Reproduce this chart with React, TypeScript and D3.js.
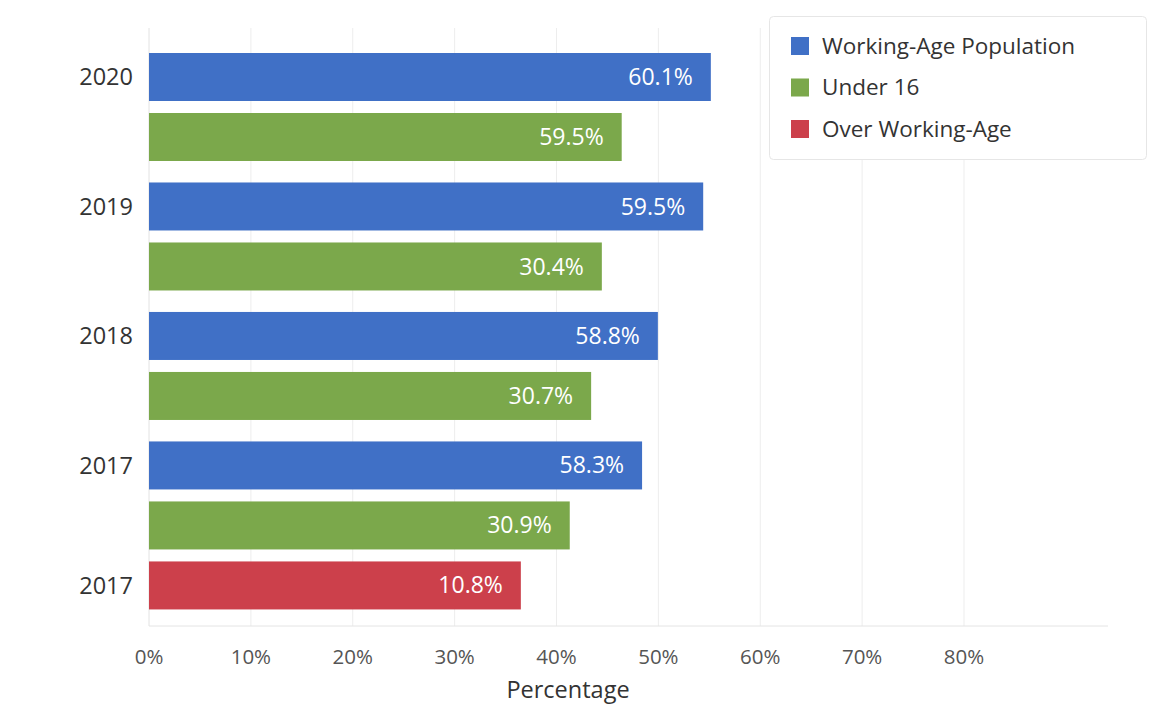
import React from "react";
import * as d3 from "d3";

// ---- data ----
const years = ["2020", "2019", "2018", "2017"];
const workingAgeValues = [55.15, 54.4, 49.95, 48.4];
const workingAgeLabels = ["60.1%", "59.5%", "58.8%", "58.3%"];
const under16Values = [46.4, 44.45, 43.4, 41.3];
const under16Labels = ["59.5%", "30.4%", "30.7%", "30.9%"];
const overYears = ["2017"];
const overValues = [36.5];
const overLabels = ["10.8%"];
const xTicks = [0, 10, 20, 30, 40, 50, 60, 70, 80];
const seriesNames = ["Working-Age Population", "Under 16", "Over Working-Age"];
const seriesColors = ["#4070c6", "#7ba84b", "#cc404b"];

type Row = { key: string; year: string; value: number; label: string; series: number; showYear: boolean; slot: number };

const GROUP_GAP = 0.158; // extra spacing between year groups, in row units
const rows: Row[] = [];
years.forEach((y, i) => {
  rows.push({ key: `wa-${i}`, year: y, value: workingAgeValues[i], label: workingAgeLabels[i], series: 0, showYear: true, slot: 2 * i + i * GROUP_GAP });
  rows.push({ key: `u16-${i}`, year: y, value: under16Values[i], label: under16Labels[i], series: 1, showYear: false, slot: 2 * i + 1 + i * GROUP_GAP });
});
overYears.forEach((y, i) => {
  const n = rows.length;
  rows.push({ key: `ow-${i}`, year: y, value: overValues[i], label: overLabels[i], series: 2, showYear: true, slot: n + (years.length - 1) * GROUP_GAP });
});

const W = 1149;
const H = 704;
const font = "'Open Sans', 'Noto Sans', sans-serif";

export default function App() {
  const x = d3.scaleLinear().domain([0, 80]).range([149, 964]);
  const y = d3.scaleLinear().domain([0, 1]).range([53, 113]);
  const bh = 48;
  const plotTop = 28;
  const plotBottom = 626;
  const plotRight = 1108;

  return (
    <svg width={W} height={H} style={{ position: "absolute", left: 0, top: 0, background: "#fff" }}>
      <rect x={0} y={0} width={W} height={H} fill="#fff" />
      {/* grid */}
      {xTicks.map((t) => (
        <line key={t} x1={x(t)} x2={x(t)} y1={plotTop} y2={plotBottom} stroke={t === 0 ? "#e2e2e2" : "#ededed"} strokeWidth={1} />
      ))}
      <line x1={x(0)} x2={plotRight} y1={plotBottom} y2={plotBottom} stroke="#e4e4e4" strokeWidth={1} />
      {/* bars */}
      {rows.map((r) => {
        const y0 = y(r.slot);
        return (
          <g key={r.key}>
            <rect x={x(0)} y={y0} width={x(r.value) - x(0)} height={bh} fill={seriesColors[r.series]} />
            <text
              x={x(r.value) - 18}
              y={y0 + bh / 2}
              dy="0.35em"
              textAnchor="end"
              fill="#fff"
              fontSize={23}
              fontFamily={font}
            >
              {r.label}
            </text>
            {r.showYear && (
              <text x={133} y={y0 + bh / 2} dy="0.36em" textAnchor="end" fill="#333" fontSize={23.5} fontFamily={font}>
                {r.year}
              </text>
            )}
          </g>
        );
      })}
      {/* x tick labels */}
      {xTicks.map((t) => (
        <text key={t} x={x(t)} y={657} dy="0.35em" textAnchor="middle" fill="#555" fontSize={20.5} fontFamily={font}>
          {`${t}%`}
        </text>
      ))}
      <text x={568} y={690} dy="0.35em" textAnchor="middle" fill="#333" fontSize={23.5} fontFamily={font}>
        Percentage
      </text>
      {/* legend */}
      <g>
        <rect x={769.5} y={16.5} width={377} height={143} rx={4} fill="#fff" stroke="#e6e6e6" />
        {seriesNames.map((n, i) => (
          <g key={n}>
            <rect x={791} y={37 + i * 41.5} width={18} height={18} fill={seriesColors[i]} />
            <text x={822} y={46 + i * 41.5} dy="0.35em" fill="#333" fontSize={22.5} fontFamily={font}>
              {n}
            </text>
          </g>
        ))}
      </g>
    </svg>
  );
}
